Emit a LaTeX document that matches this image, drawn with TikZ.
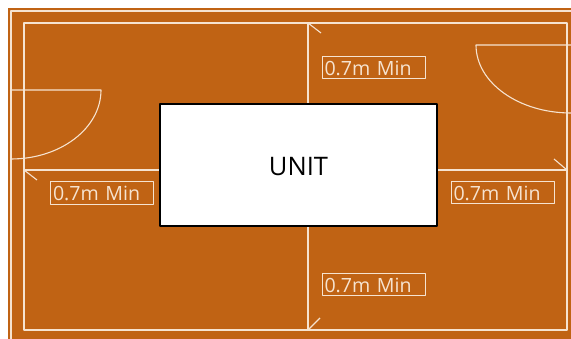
\documentclass[tikz,border=0pt]{standalone}
\usepackage{fontspec}
\setmainfont{Open Sans}
\definecolor{clearzone}{HTML}{C06314}
\definecolor{chalk}{HTML}{F6E3D0}
\begin{document}
\begin{tikzpicture}[x=1pt,y=-1pt,line join=bevel]
  \tikzstyle{wall}=[draw=chalk,line width=1.1pt]
  \tikzstyle{unitbox}=[draw=black,fill=white,line width=1.4pt,inner sep=0pt,minimum width=277pt,minimum height=122pt,text height=21pt,text depth=0pt]
  \tikzstyle{minbox}=[draw=chalk,text=chalk,line width=0.9pt,inner sep=0pt,minimum width=103pt,minimum height=22.5pt,align=left,font=\fontsize{19.6pt}{22pt}\selectfont,text width=98pt,text height=19pt,text depth=3.5pt]
  \useasboundingbox (0,0) rectangle (571,339);
  \fill[clearzone] (8,8) rectangle (571,339);
  \draw[wall] (11,339) -- (11,11) -- (571,11);
  \draw[wall] (24,23) rectangle (567,330);
  % doors
  \draw[wall] (11,90) -- (101,90) arc (0:90:90pt and -69pt);
  \draw[wall] (571,45) -- (476,45) arc (180:90:95pt and -68pt);
  \node[unitbox,font=\fontsize{25.5pt}{28pt}\selectfont] (U_1) at (298.5,165) {UNIT};
  \node[minbox] (L_1) at (102,193) {0.7m Min};
  \node[minbox] (L_2) at (373.5,67.5) {0.7m Min};
  \node[minbox] (L_3) at (502.5,192.5) {0.7m Min};
  \node[minbox] (L_4) at (373.5,284.5) {0.7m Min};
  \coordinate (W_1) at (24,170);
  \coordinate (W_2) at (308,23);
  \coordinate (W_3) at (567,170);
  \coordinate (W_4) at (308,330);
  \draw[wall] (W_1) -- (U_1.west |- W_1);
  \draw[wall] (W_2) -- (W_2 |- U_1.north);
  \draw[wall] (W_3) -- (U_1.east |- W_3);
  \draw[wall] (W_4) -- (W_4 |- U_1.south);
  % half arrow ticks
  \draw[wall] (W_1) -- ++(13,10);
  \draw[wall] (W_2) -- ++(13,10);
  \draw[wall] (W_3) -- ++(-13,-11);
  \draw[wall] (W_4) -- ++(12,-12);
\end{tikzpicture}
\end{document}
